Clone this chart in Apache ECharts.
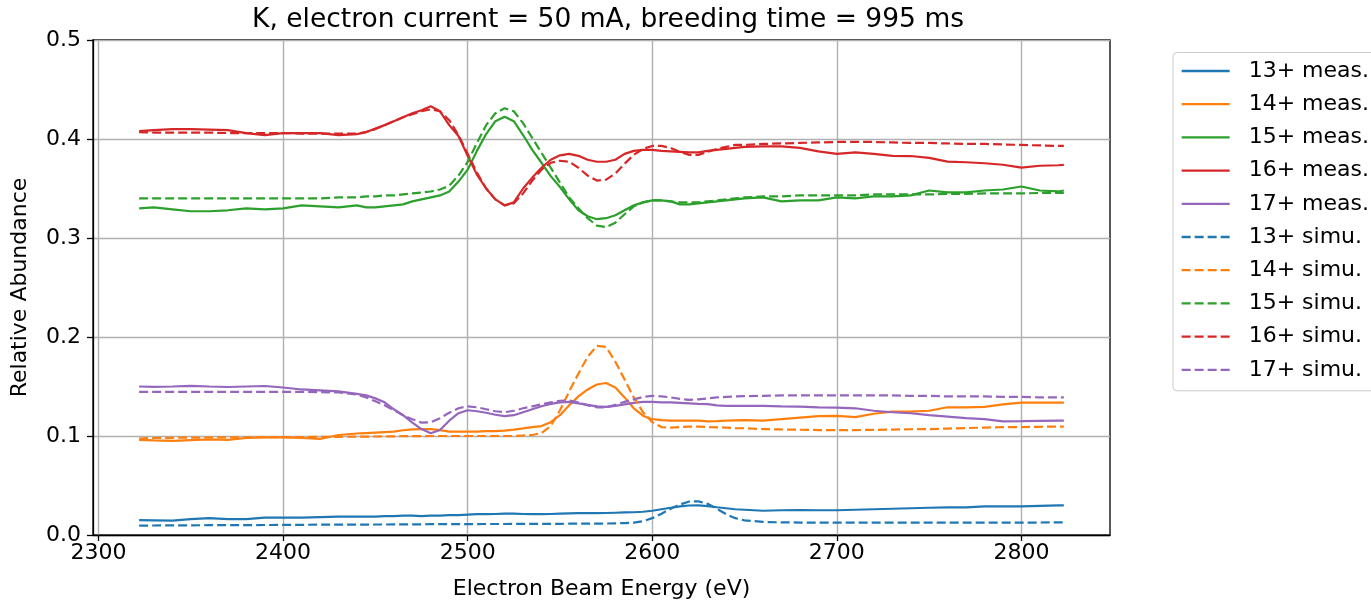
<!DOCTYPE html>
<html>
<head>
<meta charset="utf-8">
<script src="https://cdn.jsdelivr.net/npm/echarts@6/dist/echarts.min.js"></script>
<style>
  html, body { margin: 0; padding: 0; background: #ffffff; }
  #chart { width: 1371px; height: 605px; }
</style>
</head>
<body>
<div id="chart"></div>
<script>
// Electron beam energy (eV) of each sample
const energy = [
  2322, 2330, 2340, 2350, 2360, 2370, 2380, 2390, 2400, 2410, 2420, 2430, 2440,
  2445, 2450, 2455, 2460, 2465, 2470, 2475, 2480, 2485, 2490, 2495, 2500, 2505, 2510, 2515, 2520,
  2525, 2530, 2535, 2540, 2545, 2550, 2555, 2560, 2565, 2570, 2575, 2580, 2585, 2590, 2595, 2600,
  2605, 2610, 2615, 2620, 2625, 2630, 2635, 2640, 2645, 2650,
  2660, 2670, 2680, 2690, 2700, 2710, 2720, 2730, 2740, 2750, 2760, 2770, 2780, 2790, 2800, 2810, 2820, 2823
];

// Measured relative abundances
const meas13 = [
  0.015, 0.0148, 0.0145, 0.016, 0.017, 0.016, 0.016, 0.0175, 0.0175, 0.0175, 0.018, 0.0185, 0.0185,
  0.0185, 0.0185, 0.019, 0.019, 0.0195, 0.0195, 0.019, 0.0195, 0.0195, 0.020, 0.020, 0.0205, 0.021, 0.021, 0.0212, 0.0215,
  0.0215, 0.0212, 0.021, 0.021, 0.0212, 0.0215, 0.0218, 0.022, 0.022, 0.022, 0.0222, 0.0225, 0.0228, 0.023, 0.0235, 0.0245,
  0.026, 0.0275, 0.029, 0.0298, 0.030, 0.0292, 0.028, 0.027, 0.026, 0.0255,
  0.0245, 0.025, 0.0252, 0.025, 0.025, 0.0255, 0.026, 0.0265, 0.027, 0.0275, 0.028, 0.028, 0.029, 0.029, 0.029, 0.0295, 0.030, 0.030
];
const meas14 = [
  0.096, 0.0955, 0.095, 0.0958, 0.0966, 0.096, 0.098, 0.0987, 0.0987, 0.098, 0.097, 0.101, 0.1025,
  0.103, 0.1035, 0.104, 0.1045, 0.1058, 0.1067, 0.107, 0.107, 0.106, 0.1045, 0.1044, 0.1044, 0.1044, 0.105, 0.105, 0.1055,
  0.1065, 0.1077, 0.109, 0.110, 0.114, 0.121, 0.131, 0.140, 0.147, 0.152, 0.1535, 0.149, 0.139, 0.128, 0.1205, 0.117,
  0.116, 0.1155, 0.1155, 0.1155, 0.1155, 0.1148, 0.115, 0.1155, 0.1158, 0.116,
  0.1155, 0.117, 0.1186, 0.120, 0.1203, 0.119, 0.1225, 0.1247, 0.1247, 0.1255, 0.129, 0.129, 0.1295, 0.132, 0.1338, 0.1338, 0.1338, 0.1338
];
const meas15 = [
  0.330, 0.331, 0.329, 0.327, 0.327, 0.328, 0.330, 0.329, 0.330, 0.333, 0.332, 0.331, 0.333,
  0.331, 0.331, 0.332, 0.333, 0.334, 0.337, 0.339, 0.341, 0.343, 0.347, 0.357, 0.369, 0.388, 0.405, 0.418, 0.4225,
  0.418, 0.404, 0.389, 0.376, 0.3625, 0.3515, 0.339, 0.328, 0.322, 0.319, 0.320, 0.323, 0.328, 0.333, 0.336, 0.338,
  0.338, 0.337, 0.334, 0.334, 0.335, 0.336, 0.337, 0.338, 0.339, 0.340,
  0.341, 0.337, 0.338, 0.338, 0.341, 0.340, 0.342, 0.342, 0.343, 0.348, 0.346, 0.346, 0.348, 0.349, 0.352, 0.348, 0.347, 0.348
];
const meas16 = [
  0.408, 0.409, 0.410, 0.410, 0.4095, 0.409, 0.406, 0.404, 0.406, 0.406, 0.406, 0.404, 0.405,
  0.407, 0.4105, 0.414, 0.418, 0.422, 0.426, 0.429, 0.433, 0.428, 0.414, 0.403, 0.383, 0.364, 0.350, 0.339, 0.333,
  0.336, 0.350, 0.361, 0.371, 0.379, 0.3835, 0.385, 0.383, 0.379, 0.377, 0.377, 0.379, 0.385, 0.388, 0.389, 0.389,
  0.388, 0.3875, 0.387, 0.3865, 0.3865, 0.388, 0.389, 0.390, 0.391, 0.392,
  0.3925, 0.3925, 0.391, 0.3875, 0.385, 0.3865, 0.385, 0.383, 0.3828, 0.381, 0.3772, 0.3765, 0.3755, 0.374, 0.371, 0.373, 0.3735, 0.3738
];
const meas17 = [
  0.150, 0.1497, 0.150, 0.1507, 0.150, 0.1495, 0.150, 0.1505, 0.149, 0.147, 0.146, 0.145, 0.1425,
  0.141, 0.138, 0.134, 0.127, 0.121, 0.1135, 0.107, 0.1027, 0.106, 0.1155, 0.123, 0.126, 0.125, 0.1235, 0.1215, 0.120,
  0.121, 0.124, 0.127, 0.130, 0.1325, 0.134, 0.1345, 0.133, 0.1315, 0.130, 0.1295, 0.1305, 0.132, 0.1335, 0.1345, 0.1345,
  0.134, 0.134, 0.1335, 0.133, 0.1325, 0.1322, 0.131, 0.1305, 0.1305, 0.1305,
  0.1304, 0.130, 0.1297, 0.129, 0.1287, 0.128, 0.1255, 0.124, 0.123, 0.121, 0.1195, 0.118, 0.117, 0.1148, 0.115, 0.1153, 0.1155, 0.1155
];

// Simulated relative abundances
const simu13 = [
  0.0095, 0.0096, 0.0097, 0.0098, 0.0099, 0.0100, 0.0100, 0.0101, 0.0102, 0.0103, 0.0104, 0.0104, 0.0105,
  0.0105, 0.0106, 0.0106, 0.0107, 0.0107, 0.0108, 0.0108, 0.0109, 0.0109, 0.0110, 0.0110, 0.0110, 0.0110, 0.0111, 0.0111, 0.0111,
  0.0112, 0.0112, 0.0112, 0.0113, 0.0113, 0.0113, 0.0114, 0.0114, 0.0114, 0.0115, 0.0116, 0.0118, 0.0120, 0.0125, 0.0140, 0.0170,
  0.0215, 0.0265, 0.0308, 0.0338, 0.0340, 0.0315, 0.0265, 0.0210, 0.0170, 0.0148,
  0.0132, 0.0128, 0.0126, 0.0125, 0.0124, 0.0124, 0.0124, 0.0124, 0.0124, 0.0124, 0.0125, 0.0125, 0.0125, 0.0126, 0.0126, 0.0126, 0.0127, 0.0127
];
const simu14 = [
  0.0975, 0.098, 0.0982, 0.0984, 0.0985, 0.0986, 0.0987, 0.0988, 0.0989, 0.099, 0.0991, 0.0992, 0.0993,
  0.0994, 0.0995, 0.0996, 0.0997, 0.0998, 0.0998, 0.0999, 0.100, 0.100, 0.100, 0.100, 0.100, 0.100, 0.100, 0.100, 0.100,
  0.100, 0.1005, 0.101, 0.103, 0.110, 0.126, 0.145, 0.163, 0.180, 0.191, 0.190, 0.175, 0.157, 0.139, 0.124, 0.114,
  0.109, 0.1085, 0.109, 0.1095, 0.1095, 0.109, 0.1088, 0.1085, 0.108, 0.1078,
  0.107, 0.1066, 0.1063, 0.106, 0.106, 0.106, 0.1062, 0.1065, 0.1068, 0.107, 0.1075, 0.108, 0.1085, 0.109, 0.109, 0.1093, 0.1095, 0.1095
];
const simu15 = [
  0.340, 0.340, 0.340, 0.340, 0.340, 0.340, 0.340, 0.340, 0.340, 0.340, 0.340, 0.341, 0.341,
  0.342, 0.342, 0.343, 0.343, 0.344, 0.345, 0.346, 0.347, 0.349, 0.353, 0.363, 0.377, 0.396, 0.414, 0.426, 0.431,
  0.428, 0.416, 0.401, 0.386, 0.371, 0.356, 0.341, 0.330, 0.320, 0.3125, 0.311, 0.3155, 0.324, 0.332, 0.336, 0.338,
  0.338, 0.337, 0.336, 0.336, 0.336, 0.337, 0.338, 0.339, 0.340, 0.341,
  0.342, 0.342, 0.343, 0.343, 0.343, 0.343, 0.344, 0.344, 0.344, 0.344, 0.3445, 0.3445, 0.345, 0.345, 0.345, 0.3455, 0.3455, 0.3455
];
const simu16 = [
  0.407, 0.4065, 0.4065, 0.4065, 0.4065, 0.406, 0.406, 0.406, 0.406, 0.4055, 0.4055, 0.4055, 0.4055,
  0.407, 0.410, 0.414, 0.418, 0.422, 0.425, 0.428, 0.430, 0.428, 0.419, 0.404, 0.385, 0.366, 0.350, 0.339, 0.333,
  0.335, 0.345, 0.358, 0.369, 0.376, 0.378, 0.377, 0.371, 0.363, 0.358, 0.359, 0.365, 0.375, 0.384, 0.390, 0.393,
  0.393, 0.391, 0.387, 0.384, 0.384, 0.387, 0.390, 0.392, 0.394, 0.394,
  0.395, 0.3955, 0.396, 0.3965, 0.397, 0.397, 0.397, 0.3965, 0.396, 0.396, 0.3955, 0.395, 0.395, 0.3945, 0.394, 0.3935, 0.393, 0.393
];
const simu17 = [
  0.1445, 0.1445, 0.1445, 0.1445, 0.1445, 0.1445, 0.1445, 0.1445, 0.1445, 0.1445, 0.1443, 0.144, 0.142,
  0.139, 0.135, 0.131, 0.126, 0.121, 0.117, 0.1135, 0.114, 0.118, 0.1235, 0.128, 0.130, 0.129, 0.127, 0.125, 0.124,
  0.1255, 0.128, 0.130, 0.132, 0.134, 0.1356, 0.136, 0.134, 0.131, 0.129, 0.129, 0.1315, 0.1345, 0.137, 0.1395, 0.1405,
  0.140, 0.139, 0.1375, 0.1365, 0.137, 0.138, 0.139, 0.1395, 0.140, 0.1403,
  0.1405, 0.141, 0.141, 0.141, 0.141, 0.141, 0.141, 0.141, 0.1405, 0.1405, 0.140, 0.140, 0.140, 0.1395, 0.1395, 0.139, 0.139, 0.139
];

const xTicks = [2300, 2400, 2500, 2600, 2700, 2800];
const yTicks = [0.0, 0.1, 0.2, 0.3, 0.4, 0.5];

const chargeStates = ['13+', '14+', '15+', '16+', '17+'];
const palette = ['#1f77b4', '#ff7f0e', '#2ca02c', '#d62728', '#9467bd'];
const measured = [meas13, meas14, meas15, meas16, meas17];
const simulated = [simu13, simu14, simu15, simu16, simu17];

const FONT = 'DejaVu Sans';
const DASH = [9, 4];

function lineSeries(name, values, color, dashed) {
  return {
    name: name,
    type: 'line',
    data: energy.map((e, i) => [e, values[i]]),
    symbol: 'none',
    showSymbol: false,
    smooth: false,
    silent: true,
    lineStyle: { color: color, width: 2.2, type: dashed ? DASH : 'solid', cap: 'butt' },
    itemStyle: { color: color }
  };
}

const series = [];
chargeStates.forEach((q, k) => series.push(lineSeries(q + ' meas.', measured[k], palette[k], false)));
chargeStates.forEach((q, k) => series.push(lineSeries(q + ' simu.', simulated[k], palette[k], true)));

const chart = echarts.init(document.getElementById('chart'), null, { renderer: 'canvas' });
chart.setOption({
  animation: false,
  backgroundColor: '#ffffff',
  title: {
    text: 'K, electron current = 50 mA, breeding time = 995 ms',
    left: 603,
    top: 2,
    textAlign: 'center',
    textStyle: { fontFamily: FONT, fontSize: 26.5, fontWeight: 'normal', color: '#000000' }
  },
  legend: {
    orient: 'vertical',
    left: 1173,
    top: 52.5,
    itemWidth: 48,
    itemHeight: 22,
    itemGap: 11.2,
    padding: [7.5, 60, 10, 7.5],
    backgroundColor: 'rgba(255,255,255,0.8)',
    borderColor: '#cccccc',
    borderWidth: 1,
    borderRadius: 4,
    selectedMode: false,
    itemStyle: { opacity: 0 },
    lineStyle: { width: 2.3 },
    textStyle: { fontFamily: FONT, fontSize: 22, lineHeight: 22, color: '#000000', padding: [0, 0, 0, 14] },
    data: series.map(s => s.name)
  },
  grid: {
    left: 93, right: 261, top: 40, bottom: 68,
    show: true, borderColor: '#000000', borderWidth: 1.3, backgroundColor: 'transparent'
  },
  xAxis: {
    type: 'value',
    min: 2297,
    max: 2848,
    name: 'Electron Beam Energy (eV)',
    nameLocation: 'middle',
    nameGap: 43,
    nameTextStyle: { fontFamily: FONT, fontSize: 22, color: '#000000' },
    axisLine: { show: true, onZero: false, lineStyle: { color: '#000000', width: 1.3 } },
    axisTick: { show: true, length: 6, lineStyle: { color: '#000000', width: 1.3 }, customValues: xTicks },
    axisLabel: {
      customValues: xTicks, margin: 7, fontFamily: FONT, fontSize: 22, color: '#000000',
      formatter: v => String(Math.round(v))
    },
    splitLine: { show: true, lineStyle: { color: '#b0b0b0', width: 1.4 } }
  },
  yAxis: {
    type: 'value',
    min: 0,
    max: 0.5,
    interval: 0.1,
    name: 'Relative Abundance',
    nameLocation: 'middle',
    nameGap: 62,
    nameTextStyle: { fontFamily: FONT, fontSize: 22, color: '#000000' },
    axisLine: { show: true, onZero: false, lineStyle: { color: '#000000', width: 1.3 } },
    axisTick: { show: true, length: 6, lineStyle: { color: '#000000', width: 1.3 } },
    axisLabel: {
      margin: 12, fontFamily: FONT, fontSize: 22, color: '#000000',
      formatter: v => {
        const t = yTicks.find(y => Math.abs(y - v) < 1e-9);
        return (t === undefined ? v : t).toFixed(1);
      }
    },
    splitLine: { show: true, lineStyle: { color: '#b0b0b0', width: 1.4 } }
  },
  series: series
});
</script>
</body>
</html>
